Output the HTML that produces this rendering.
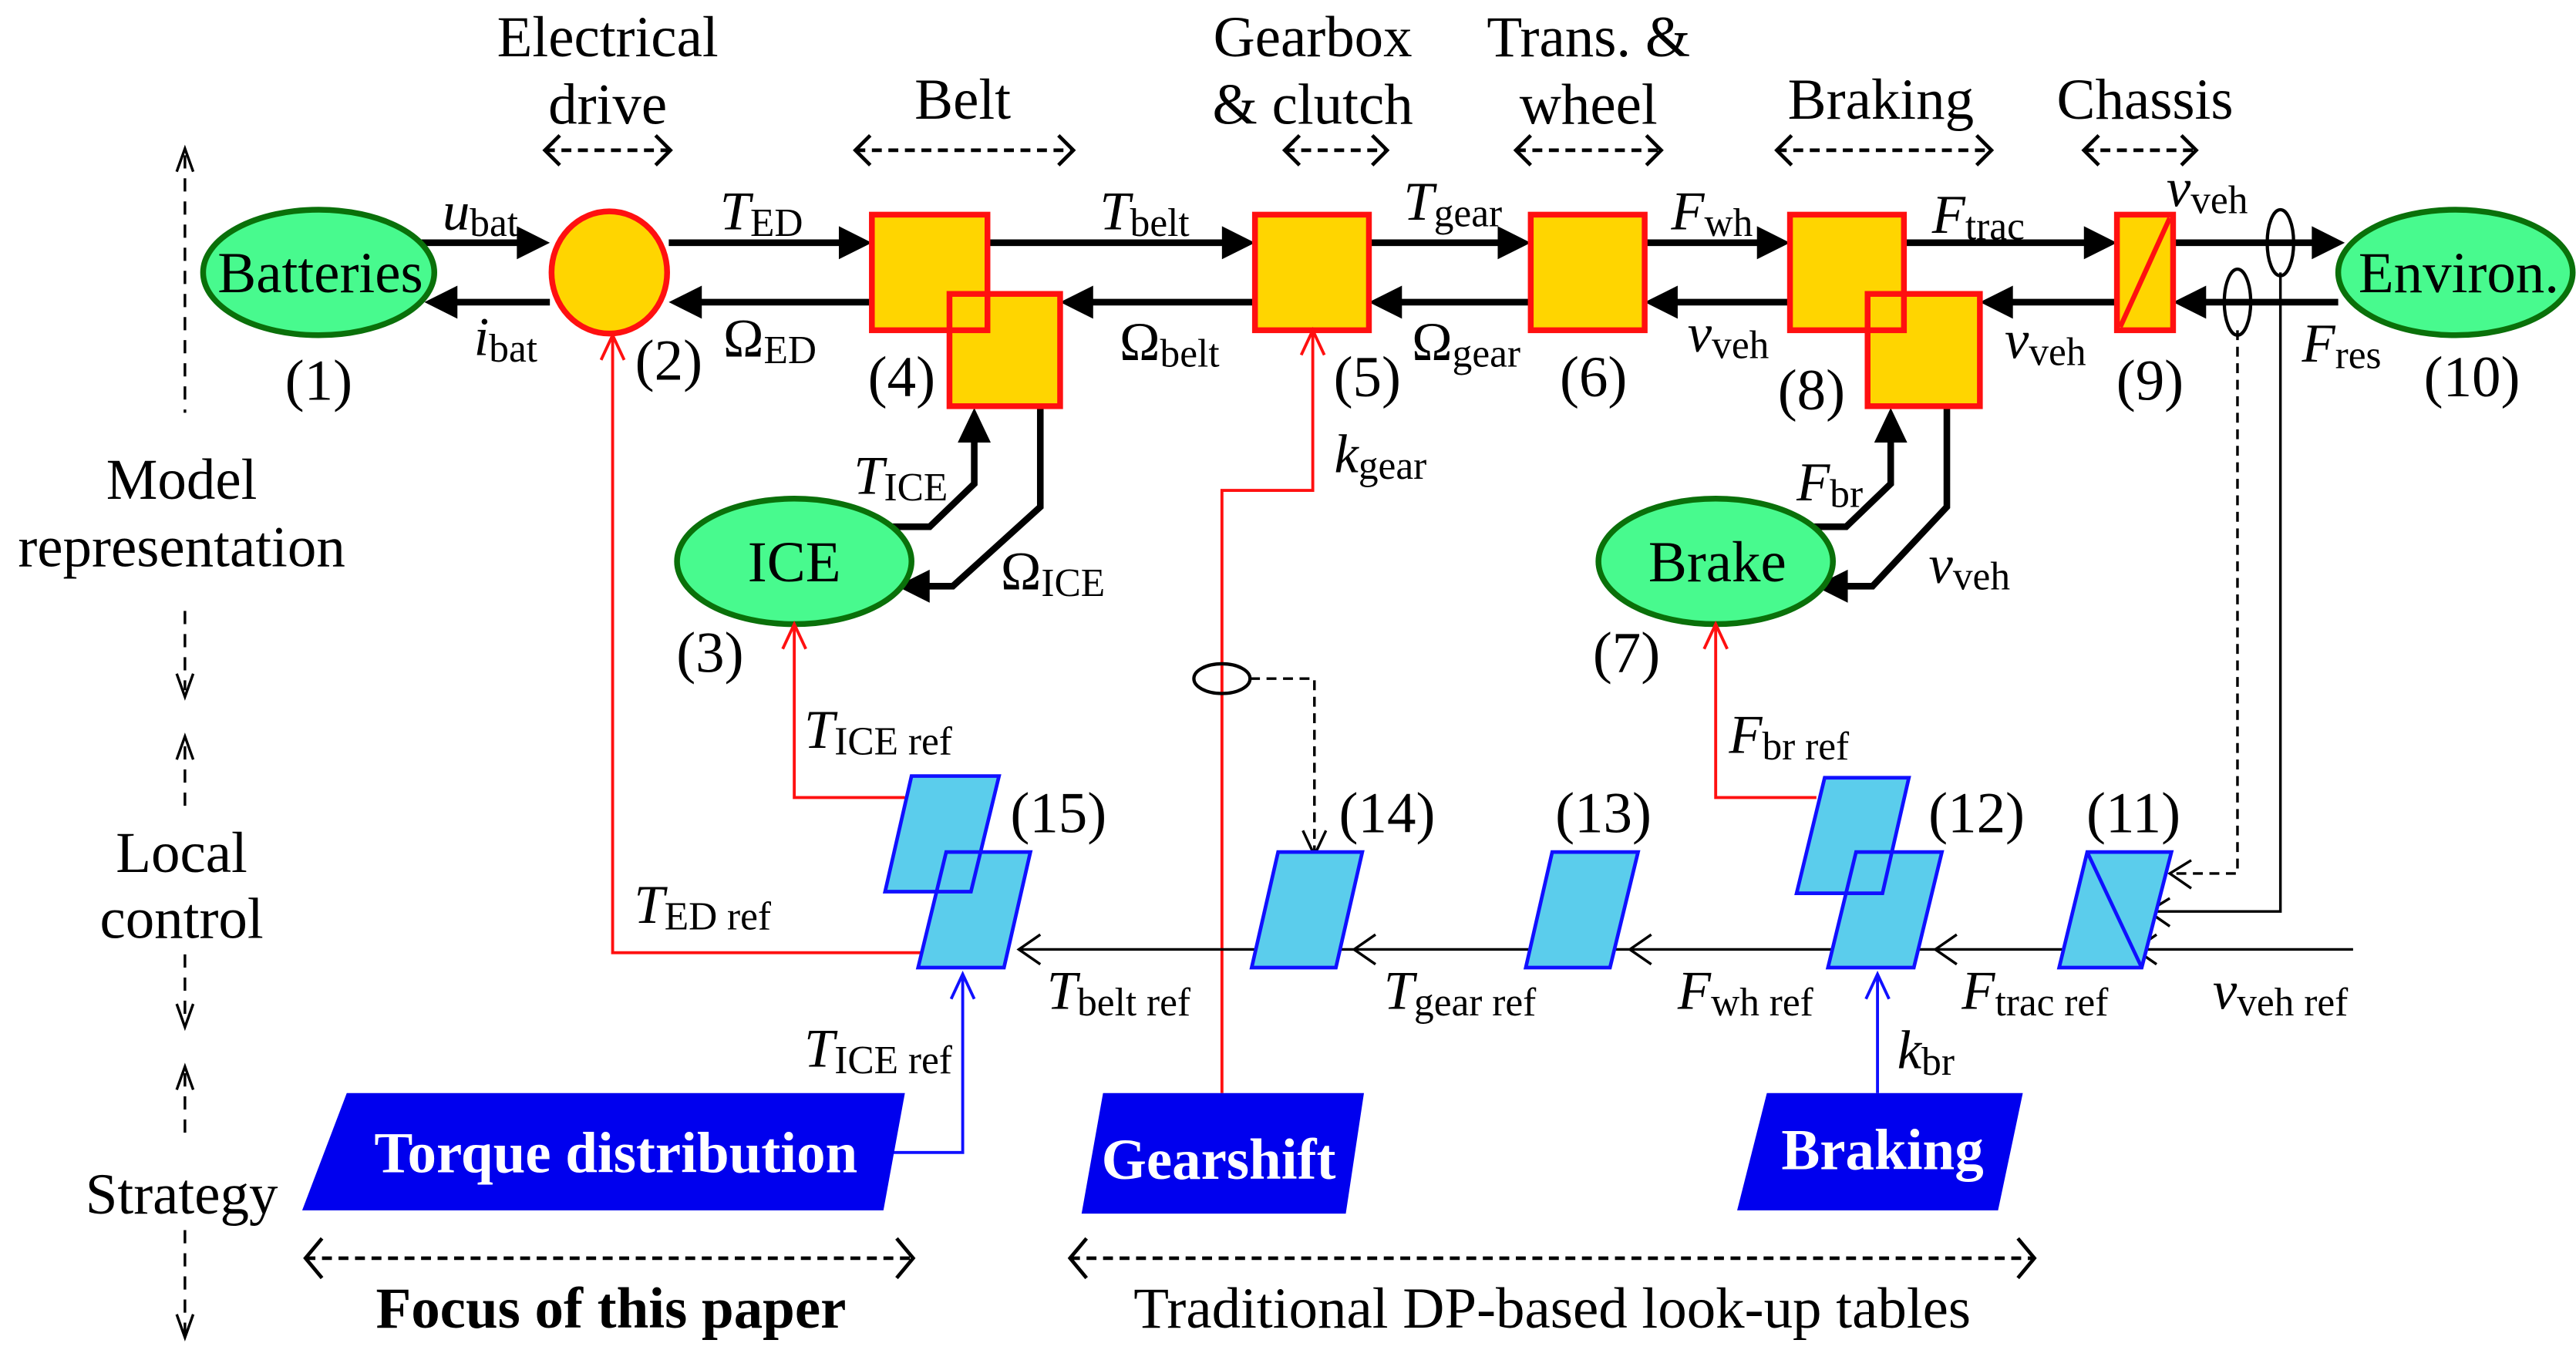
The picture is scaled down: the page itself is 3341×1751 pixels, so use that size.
<!DOCTYPE html>
<html><head><meta charset="utf-8"><style>html,body{margin:0;padding:0;background:#fff}svg{display:block}</style></head>
<body>
<svg xmlns="http://www.w3.org/2000/svg" width="3341" height="1751" viewBox="0 0 1560 817.6" preserveAspectRatio="none" style="font-family:'Liberation Serif','Times New Roman',Times,'DejaVu Serif',serif">
<rect width="1560" height="817.6" fill="#fff"/>
<!-- top headers -->
<g font-size="35" text-anchor="middle" fill="#000">
<text x="368" y="34">Electrical</text><text x="368" y="75">drive</text>
<text x="583" y="72">Belt</text>
<text x="795" y="34">Gearbox</text><text x="795" y="75">&amp; clutch</text>
<text x="962" y="34">Trans. &amp;</text><text x="962" y="75">wheel</text>
<text x="1139" y="72">Braking</text>
<text x="1299" y="72">Chassis</text>
</g>
<g stroke="#000" stroke-width="2.2" fill="none">
<path d="M330 91H406M518 91H650M778 91H840M918 91H1006M1076 91H1206M1262 91H1330M185 762H553M648 762H1232" stroke-dasharray="6 4"/>
<path d="M339 82L330 91L339 100M397 82L406 91L397 100M527 82L518 91L527 100M641 82L650 91L641 100M787 82L778 91L787 100M831 82L840 91L831 100M927 82L918 91L927 100M997 82L1006 91L997 100M1085 82L1076 91L1085 100M1197 82L1206 91L1197 100M1271 82L1262 91L1271 100M1321 82L1330 91L1321 100M195 750L185 762L195 774M543 750L553 762L543 774M658 750L648 762L658 774M1222 750L1232 762L1222 774"/>
</g>
<!-- left vertical labels -->
<g stroke="#000" stroke-width="1.6" fill="none">
<path d="M112 94V250M112 370V418M112 452V490M112 578V620M112 650V690M112 745V808" stroke-dasharray="8 6"/>
<path d="M107 104L112 90L117 104M107 408L112 422L117 408M107 460L112 446L117 460M107 608L112 622L117 608M107 660L112 646L117 660M107 796L112 810L117 796"/>
</g>
<g font-size="35" text-anchor="middle">
<text x="110" y="302">Model</text><text x="110" y="343">representation</text>
<text x="110" y="528">Local</text><text x="110" y="568">control</text>
<text x="110" y="735">Strategy</text>
</g>
<!-- main thick lines -->
<g stroke="#000" stroke-width="4" fill="none">
<path d="M255 147H316M405 147H510M598 147H742M829 147H909M996 147H1066M1153 147H1264M1316 147H1402"/>
<path d="M275 183H333M423 183H528M660 183H760M847 183H927M1014 183H1084M1217 183H1282M1334 183H1416"/>
<path d="M537 319H563L590 293V265M630 246V307L577 355H560M1094 319H1118L1145 293V265M1179 246V307L1134 355H1116"/>
</g>
<g fill="#000">
<polygon points="333,147 313,137 313,157"/><polygon points="528,147 508,137 508,157"/><polygon points="760,147 740,137 740,157"/><polygon points="927,147 907,137 907,157"/><polygon points="1084,147 1064,137 1064,157"/><polygon points="1282,147 1262,137 1262,157"/><polygon points="1420,147 1400,137 1400,157"/>
<polygon points="257,183 277,173 277,193"/><polygon points="405,183 425,173 425,193"/><polygon points="642,183 662,173 662,193"/><polygon points="829,183 849,173 849,193"/><polygon points="996,183 1016,173 1016,193"/><polygon points="1199,183 1219,173 1219,193"/><polygon points="1316,183 1336,173 1336,193"/>
<polygon points="590,247 580,268 600,268"/><polygon points="1145,247 1135,268 1155,268"/>
<polygon points="543,355 563,345 563,365"/><polygon points="1099,355 1119,345 1119,365"/>
</g>
<!-- ellipses -->
<g fill="#48fa8e" stroke="#0a700a" stroke-width="3.5">
<ellipse cx="193" cy="165" rx="70" ry="38"/><ellipse cx="1487" cy="165" rx="71" ry="38"/>
<ellipse cx="481" cy="340" rx="71" ry="38"/><ellipse cx="1039" cy="340" rx="71" ry="38"/>
</g>
<g font-size="35" text-anchor="middle">
<text x="194" y="177">Batteries</text><text x="1489" y="177">Environ.</text>
<text x="481" y="352">ICE</text><text x="1040" y="352">Brake</text>
</g>
<!-- yellow blocks: fills -->
<g fill="#ffd500" stroke="none">
<rect x="528" y="130" width="70" height="70"/><rect x="575" y="178" width="67" height="68"/>
<rect x="1084" y="130" width="69" height="70"/><rect x="1131" y="178" width="68" height="68"/>
</g>
<g fill="none" stroke="#ff1010" stroke-width="3.5">
<rect x="528" y="130" width="70" height="70"/><rect x="575" y="178" width="67" height="68"/>
<rect x="1084" y="130" width="69" height="70"/><rect x="1131" y="178" width="68" height="68"/>
</g>
<g fill="#ffd500" stroke="#ff1010" stroke-width="3.5">
<ellipse cx="369" cy="165" rx="35" ry="37"/>
<rect x="760" y="130" width="69" height="70"/><rect x="927" y="130" width="69" height="70"/>
<rect x="1282" y="130" width="34" height="70"/>
<path d="M1284 198L1314 132" stroke-width="3"/>
</g>
<!-- numbers -->
<g font-size="35" text-anchor="middle">
<text x="193" y="242">(1)</text><text x="405" y="230">(2)</text><text x="430" y="407">(3)</text><text x="546" y="240">(4)</text>
<text x="828" y="240">(5)</text><text x="965" y="240">(6)</text><text x="985" y="407">(7)</text><text x="1097" y="248">(8)</text>
<text x="1302" y="242">(9)</text><text x="1497" y="240">(10)</text>
<text x="1292" y="504">(11)</text><text x="1197" y="504">(12)</text><text x="971" y="504">(13)</text><text x="840" y="504">(14)</text><text x="641" y="504">(15)</text>
</g>
<!-- lower red lines -->
<g stroke="#ff1010" stroke-width="1.8" fill="none">
<path d="M558 577H371V205M364 218L371 203L378 218"/>
<path d="M548 483H481V380M474 393L481 378L488 393"/>
<path d="M740 662V297H795V202M788 215L795 200L802 215"/>
<path d="M1100 483H1039V380M1032 393L1039 378L1046 393"/>
</g>
<ellipse cx="740" cy="411" rx="17" ry="9" fill="none" stroke="#000" stroke-width="2"/>
<g stroke="#000" stroke-width="1.6" fill="none">
<path d="M757 411H796V515" stroke-dasharray="6 4"/>
<path d="M789 503L796 518L803 503"/>
<path d="M1355 200V529H1316" stroke-dasharray="6 4"/>
<path d="M1381 165V552H1303"/>
<path d="M1425 575H617"/>
<path d="M1327 521L1314 529L1327 538M1314 544L1301 552L1314 561M1306 566L1293 575L1306 584M1185 566L1172 575L1185 584M1000 566L987 575L1000 584M833 566L820 575L833 584M630 566L617 575L630 584"/>
</g>
<ellipse cx="1381" cy="147" rx="8" ry="20" fill="none" stroke="#000" stroke-width="2"/>
<ellipse cx="1355" cy="183" rx="8" ry="20" fill="none" stroke="#000" stroke-width="2"/>
<!-- blue lines -->
<g stroke="#1010ff" stroke-width="1.8" fill="none">
<path d="M538 698H583V592M576 605L583 590L590 605"/>
<path d="M1137 662V592M1130 605L1137 590L1144 605"/>
</g>
<!-- parallelograms -->
<g fill="#5bcdec" stroke="none">
<polygon points="552,470 605,470 588,540 536,540"/>
<polygon points="573,516 624,516 608,586 556,586"/>
<polygon points="1105,471 1156,471 1140,541 1088,541"/>
<polygon points="1124,516 1176,516 1159,586 1107,586"/>
</g>
<g fill="none" stroke="#1010ff" stroke-width="2.2">
<polygon points="552,470 605,470 588,540 536,540"/>
<polygon points="573,516 624,516 608,586 556,586"/>
<polygon points="1105,471 1156,471 1140,541 1088,541"/>
<polygon points="1124,516 1176,516 1159,586 1107,586"/>
</g>
<g fill="#5bcdec" stroke="#1010ff" stroke-width="2.2">
<polygon points="774,516 825,516 809,586 758,586"/>
<polygon points="940,516 992,516 975,586 924,586"/>
<polygon points="1264,516 1315,516 1297,586 1247,586"/>
<path d="M1264 516L1297 586" fill="none"/>
</g>
<!-- strategy blocks -->
<g fill="#0000ee">
<polygon points="210,662 548,662 535,733 183,733"/>
<polygon points="668,662 826,662 815,735 655,735"/>
<polygon points="1070,662 1225,662 1210,733 1052,733"/>
</g>
<g font-size="35" font-weight="bold" fill="#fff" text-anchor="middle">
<text x="373" y="710">Torque distribution</text>
<text x="738" y="714">Gearshift</text>
<text x="1140" y="708">Braking</text>
</g>
<text x="370" y="804" font-size="35" font-weight="bold" text-anchor="middle">Focus of this paper</text>
<text x="940" y="804" font-size="35" text-anchor="middle">Traditional DP-based look-up tables</text>
<!-- variable labels -->
<g font-size="33">
<text x="268" y="139"><tspan font-style="italic">u</tspan><tspan font-size="24" dy="4">bat</tspan></text>
<text x="436" y="139"><tspan font-style="italic">T</tspan><tspan font-size="24" dy="4">ED</tspan></text>
<text x="666" y="139"><tspan font-style="italic">T</tspan><tspan font-size="24" dy="4">belt</tspan></text>
<text x="850" y="133"><tspan font-style="italic">T</tspan><tspan font-size="24" dy="4">gear</tspan></text>
<text x="1012" y="139"><tspan font-style="italic">F</tspan><tspan font-size="24" dy="4">wh</tspan></text>
<text x="1170" y="141"><tspan font-style="italic">F</tspan><tspan font-size="24" dy="4">trac</tspan></text>
<text x="1312" y="125"><tspan font-style="italic">v</tspan><tspan font-size="24" dy="4">veh</tspan></text>
<text x="287" y="215"><tspan font-style="italic">i</tspan><tspan font-size="24" dy="4">bat</tspan></text>
<text x="438" y="216">Ω<tspan font-size="24" dy="4">ED</tspan></text>
<text x="678" y="218">Ω<tspan font-size="24" dy="4">belt</tspan></text>
<text x="855" y="218">Ω<tspan font-size="24" dy="4">gear</tspan></text>
<text x="1022" y="213"><tspan font-style="italic">v</tspan><tspan font-size="24" dy="4">veh</tspan></text>
<text x="1214" y="217"><tspan font-style="italic">v</tspan><tspan font-size="24" dy="4">veh</tspan></text>
<text x="1394" y="219"><tspan font-style="italic">F</tspan><tspan font-size="24" dy="4">res</tspan></text>
<text x="517" y="299"><tspan font-style="italic">T</tspan><tspan font-size="24" dy="4">ICE</tspan></text>
<text x="606" y="357">Ω<tspan font-size="24" dy="4">ICE</tspan></text>
<text x="1088" y="303"><tspan font-style="italic">F</tspan><tspan font-size="24" dy="4">br</tspan></text>
<text x="1168" y="353"><tspan font-style="italic">v</tspan><tspan font-size="24" dy="4">veh</tspan></text>
<text x="808" y="286"><tspan font-style="italic">k</tspan><tspan font-size="24" dy="4">gear</tspan></text>
<text x="487" y="453"><tspan font-style="italic">T</tspan><tspan font-size="24" dy="4">ICE ref</tspan></text>
<text x="384" y="559"><tspan font-style="italic">T</tspan><tspan font-size="24" dy="4">ED ref</tspan></text>
<text x="1047" y="456"><tspan font-style="italic">F</tspan><tspan font-size="24" dy="4">br ref</tspan></text>
<text x="634" y="611"><tspan font-style="italic">T</tspan><tspan font-size="24" dy="4">belt ref</tspan></text>
<text x="838" y="611"><tspan font-style="italic">T</tspan><tspan font-size="24" dy="4">gear ref</tspan></text>
<text x="1016" y="611"><tspan font-style="italic">F</tspan><tspan font-size="24" dy="4">wh ref</tspan></text>
<text x="1188" y="611"><tspan font-style="italic">F</tspan><tspan font-size="24" dy="4">trac ref</tspan></text>
<text x="1340" y="611"><tspan font-style="italic">v</tspan><tspan font-size="24" dy="4">veh ref</tspan></text>
<text x="487" y="646"><tspan font-style="italic">T</tspan><tspan font-size="24" dy="4">ICE ref</tspan></text>
<text x="1149" y="647"><tspan font-style="italic">k</tspan><tspan font-size="24" dy="4">br</tspan></text>
</g>
</svg>
</body></html>
